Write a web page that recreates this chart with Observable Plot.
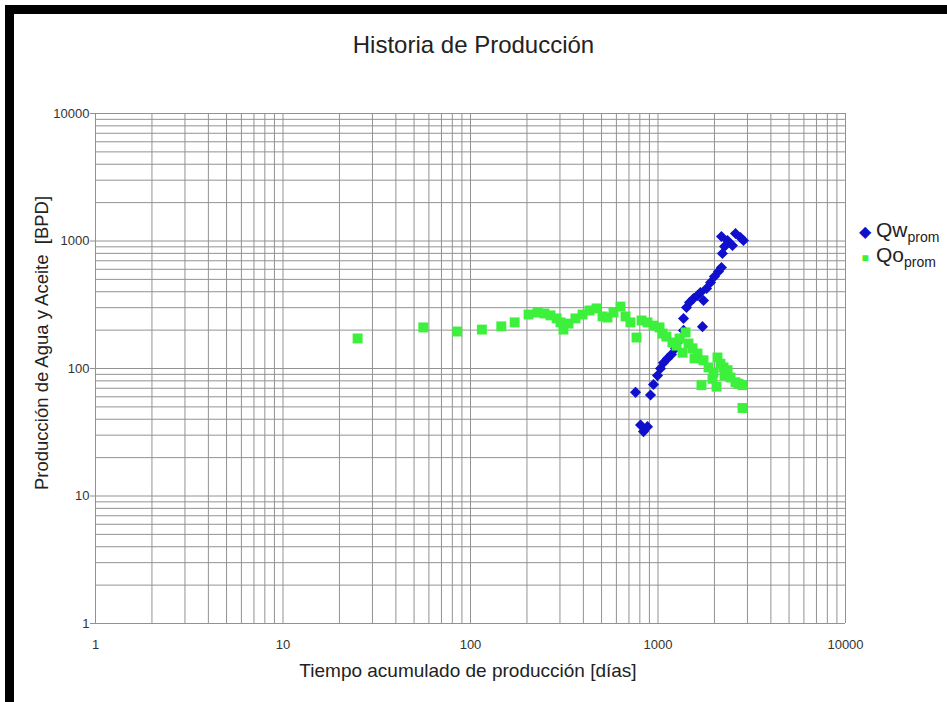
<!DOCTYPE html>
<html>
<head>
<meta charset="utf-8">
<script src="https://cdn.jsdelivr.net/npm/d3@7"></script>
<script src="https://cdn.jsdelivr.net/npm/@observablehq/plot@0.6"></script>
<style>
  html, body { margin: 0; padding: 0; background: #fff; }
  #wrap { position: relative; width: 947px; height: 702px; overflow: hidden; font-family: "Liberation Sans", Arial, sans-serif; color: #222; }
  #chart { position: absolute; left: 0; top: 0; }
  .bar { position: absolute; background: #000; }
  .txt { position: absolute; white-space: nowrap; }
  #title { left: 0; width: 947px; top: 31px; text-align: center; font-size: 24px; }
  #xlabel { left: 0; width: 936px; top: 660px; text-align: center; font-size: 19px; }
  #ylabel { left: 42px; top: 343px; font-size: 18.5px; transform: translate(-50%, -50%) rotate(-90deg); }
  #legend { left: 858px; top: 217px; font-size: 21px; line-height: 25px; }
  #legend div { height: 25px; }
  #legend sub { font-size: 14px; vertical-align: -5px; line-height: 0; }
  .sym { display: inline-block; width: 14px; text-align: center; margin-right: 4px; }
</style>
</head>
<body>
<div id="wrap">
  <div id="chart"></div>
  <div class="bar" style="left:5px;top:5px;width:942px;height:9px;"></div>
  <div class="bar" style="left:5px;top:5px;width:9px;height:697px;"></div>
  <div class="txt" id="title">Historia de Producción</div>
  <div class="txt" id="xlabel">Tiempo acumulado de producción [días]</div>
  <div class="txt" id="ylabel">Producción de Agua y Aceite&nbsp; [BPD]</div>
  <div class="txt" id="legend"></div>
</div>
<script>
// Tick labels
const xTicks = [1, 10, 100, 1000, 10000];
const yTicks = [1, 10, 100, 1000, 10000];

// Series: Qw prom (water) — days, BPD
const qwDays = [759, 807, 837, 879, 912, 946, 994, 1031, 1070, 1124,
  1180, 1240, 1303, 1368, 1368, 1419, 1472, 1546, 1624, 1685,
  1749, 1727, 1815, 1906, 2001, 2101, 2180, 2206, 2264, 2180,
  2349, 2496, 2590, 2754, 2856];
const qwRate = [65, 36, 32, 35, 62, 75, 88, 100, 111, 120,
  129, 144, 166, 199, 247, 301, 329, 354, 374, 395,
  341, 213, 424, 473, 527, 577, 620, 798, 905, 1084,
  1009, 922, 1145, 1065, 1009];

// Series: Qo prom (oil) — days, BPD
const qoDays = [25, 56, 85, 115, 146, 172, 204, 228, 248, 267,
  288, 302, 313, 333, 363, 396, 431, 470, 506, 538,
  579, 631, 671, 713, 768, 817, 879, 946, 1019, 1057,
  1109, 1194, 1255, 1303, 1352, 1403, 1455, 1528, 1566, 1624,
  1706, 1749, 1860, 1953, 1977, 2052, 2076, 2154, 2236, 2264,
  2349, 2437, 2590, 2688, 2824, 2824];
const qoRate = [172, 210, 195, 202, 214, 230, 265, 275, 270, 261,
  247, 230, 202, 225, 247, 265, 285, 296, 256, 251,
  275, 306, 256, 230, 175, 238, 230, 217, 210, 188,
  178, 160, 151, 172, 133, 192, 157, 144, 120, 131,
  74, 116, 102, 83, 93, 72, 122, 109, 102, 88,
  97, 85, 78, 76, 74, 49];

const seriesNames = ["Qw", "Qo"];
const seriesSub = "prom";
const colors = {Qw: "#0f0fcc", Qo: "#3cf03c"};

const qw = qwDays.map((d, i) => ({days: d, rate: qwRate[i]}));
const qo = qoDays.map((d, i) => ({days: d, rate: qoRate[i]}));

// log grid lines (1..9 per decade)
const grid = [];
for (let dec = 1; dec < 10000; dec *= 10) for (let k = 1; k < 10; k++) grid.push(k * dec);
grid.push(10000);

const fmt = d3.format("d");

const chart = Plot.plot({
  width: 947,
  height: 702,
  marginLeft: 95,
  marginRight: 102,
  marginTop: 113,
  marginBottom: 79,
  style: {fontFamily: "'Liberation Sans', Arial, sans-serif", fontSize: "13px", color: "#333", background: "transparent"},
  x: {type: "log", domain: [1, 10000]},
  y: {type: "log", domain: [1, 10000]},
  marks: [
    Plot.gridX(grid, {stroke: "#929292", strokeOpacity: 1}),
    Plot.gridY(grid, {stroke: "#929292", strokeOpacity: 1}),
    Plot.axisX(xTicks, {tickSize: 0, tickPadding: 16, tickFormat: fmt, label: null, fontSize: 13}),
    Plot.axisY(yTicks, {tickSize: 5, tickPadding: 1, tickFormat: fmt, label: null, stroke: "#929292", fontSize: 13}),
    Plot.dot(qw, {x: "days", y: "rate", symbol: "diamond2", fill: colors.Qw, stroke: "none", r: 5}),
    Plot.dot(qo, {x: "days", y: "rate", symbol: "square", fill: colors.Qo, stroke: "none", r: 5.6})
  ]
});
document.getElementById("chart").appendChild(chart);

document.getElementById("legend").innerHTML =
  `<div><span class="sym" style="color:${colors.Qw};font-size:16px">&#9670;</span>${seriesNames[0]}<sub>${seriesSub}</sub></div>` +
  `<div><span class="sym" style="color:${colors.Qo};font-size:12px">&#9632;</span>${seriesNames[1]}<sub>${seriesSub}</sub></div>`;
</script>
</body>
</html>
